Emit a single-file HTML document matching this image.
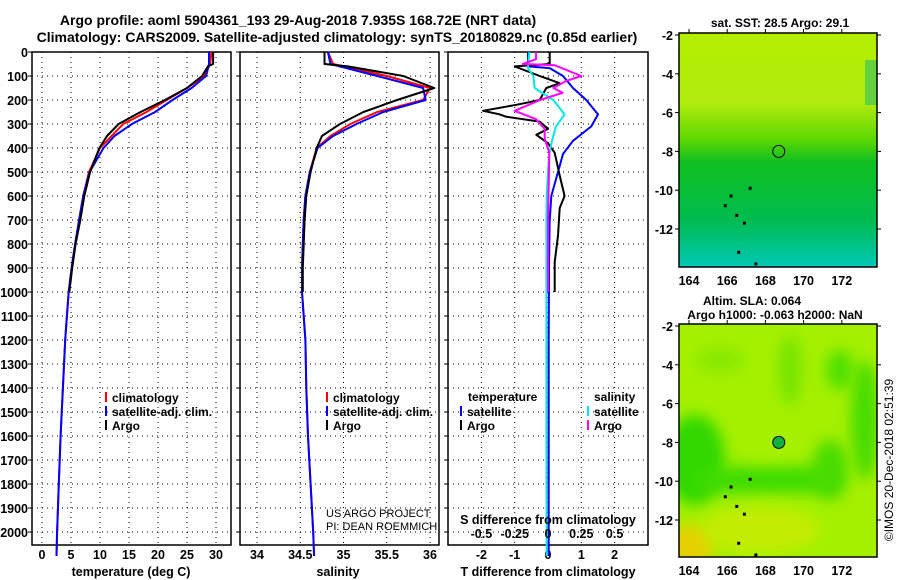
<!DOCTYPE html>
<html><head><meta charset="utf-8"><style>
html,body{margin:0;padding:0;background:#fff;}
svg{display:block;font-family:"Liberation Sans",sans-serif;font-weight:bold;}
text{font-size:12px;fill:#000;}
</style></head><body>
<svg id="fig" width="900" height="580" viewBox="0 0 900 580" xmlns="http://www.w3.org/2000/svg">
<defs>
<linearGradient id="sstGrad" x1="0" y1="0" x2="0" y2="1">
<stop offset="0" stop-color="#b4ee00"/><stop offset="0.3" stop-color="#b0ec10"/>
<stop offset="0.45" stop-color="#60d800"/><stop offset="0.55" stop-color="#10c020"/>
<stop offset="0.8" stop-color="#00bc50"/><stop offset="1" stop-color="#00c8b8"/>
</linearGradient>
<filter id="blur" x="-60%" y="-60%" width="220%" height="220%"><feGaussianBlur stdDeviation="7"/></filter>
<clipPath id="clipM2"><rect x="679" y="324" width="198" height="233"/></clipPath>
</defs>
<g id="root"></g>
</svg>
<script>
// ---------- data ----------
const tDepth = [0,50,100,150,200,250,300,350,400,500,600,700,800,900,1000,1100,1200,1400,1600,1800,2000,2100];
const tClim  = [29.2,29.0,28.0,25.0,21.5,18.0,14.0,12.0,10.0,8.1,7.1,6.4,5.7,5.1,4.6,4.3,4.0,3.6,3.2,2.9,2.6,2.5];
const tSat   = [28.8,28.8,28.3,25.8,22.5,19.5,15.5,12.5,10.6,8.2,7.1,6.4,5.7,5.1,4.6,4.3,4.0,3.6,3.2,2.9,2.6,2.5];
const argoDepth = [0,50,60,100,150,200,250,300,350,400,500,600,700,800,900,1000];
const tArgo  = [29.5,29.5,28.6,27.6,25.0,21.2,17.0,13.2,11.2,9.9,8.3,7.3,6.6,5.8,5.2,4.7];
const sClim  = [34.82,34.88,35.5,36.0,35.92,35.39,35.08,34.85,34.69,34.61,34.56,34.54,34.53,34.52,34.52,34.54,34.56,34.57,34.59,34.62,34.65,34.66];
const sSat   = [34.82,34.85,35.39,35.92,35.95,35.46,35.15,34.88,34.70,34.61,34.56,34.54,34.53,34.52,34.52,34.54,34.56,34.57,34.59,34.62,34.65,34.66];
const sArgo  = [34.78,34.78,35.05,35.69,36.05,35.62,35.23,34.96,34.75,34.69,34.62,34.57,34.55,34.54,34.53,34.53];
const dDepth = [0,60,67,100,150,200,260,310,370,425,500,600,700,900,1200,1600,2100];
const dTsat  = [-0.6,-0.6,0.05,0.45,0.75,1.15,1.5,1.3,0.75,0.45,0.3,0.1,0.05,0.03,0.02,0.02,0.02];
const dSsat  = [-0.14,-0.15,-0.15,-0.11,-0.1,0.04,0.125,0.06,0.03,0.01,0.0,-0.01,-0.012,-0.012,-0.012,-0.012,-0.01];
const daDepth = [0,50,60,100,130,150,200,220,245,260,270,290,320,345,380,420,515,600,650,765,875,975,1000];
const dTargo = [0.05,0.05,-1.0,-0.25,0.35,-0.05,-0.25,-0.95,-1.95,-1.45,-1.25,-0.25,0.0,-0.35,0.0,0.2,0.35,0.5,0.35,0.3,0.2,0.2,0.2];
const sdDepth = [0,30,50,55,100,120,150,170,200,245,280,320,360,420,700,1000];
const dSargo = [-0.09,-0.09,-0.19,0.05,0.25,0.14,0.04,0.11,-0.06,-0.25,-0.09,-0.025,-0.025,0.01,0.0,0.0];
const depthTicks = [0,100,200,300,400,500,600,700,800,900,1000,1100,1200,1300,1400,1500,1600,1700,1800,1900,2000];
const tTicks = [0,5,10,15,20,25,30];
const sTicks = [34,34.5,35,35.5,36];
const dtTicks = [-2,-1,0,1,2];
const dsTicks = [-0.5,-0.25,0,0.25,0.5];
const latTicks = [-2,-4,-6,-8,-10,-12];
const lonTicks = [164,166,168,170,172];
const argoLon = 168.7, argoLat = -8;

// ---------- scales ----------
const Y = d => 52 + d*0.24;
const XT = t => 42 + t*5.8;
const XS = s => 257 + (s-34)*86.5;
const XDT = v => 548 + v*33.3;
const XDS = v => 548 + v*133.2;
const LX = lon => 689 + (lon-164)*19.1;
const LY1 = lat => 35 + (-2-lat)*19.4;
const LY2 = lat => 326 + (-2-lat)*19.4;
const TOP=52, BOT=545;

const NS="http://www.w3.org/2000/svg";
const root=document.getElementById('root');
function mk(tag, attrs, parent){const e=document.createElementNS(NS,tag);for(const k in attrs)e.setAttribute(k,attrs[k]);(parent||root).appendChild(e);return e;}
function txt(x,y,s,anchor,size){const e=mk('text',{x:x,y:y,'text-anchor':anchor||'start'});if(size)e.style.fontSize=size+'px';e.textContent=s;return e;}

let e;
e=txt(298,25,'Argo profile: aoml 5904361_193 29-Aug-2018 7.935S 168.72E (NRT data)','middle',14);


e=txt(337,42,'Climatology: CARS2009. Satellite-adjusted climatology: synTS_20180829.nc (0.85d earlier)','middle',14);



function panel(x0,x1,name,xticks,xf,xlabels){
  const g=mk('g',{});
  
  
  depthTicks.forEach(d=>{
    const l=mk('line',{x1:x0,x2:x1,y1:Y(d),y2:Y(d),stroke:'#000','stroke-width':1,'stroke-dasharray':'1 4'},g);
    
    
    const t1=mk('line',{x1:x0-4,x2:x0,y1:Y(d),y2:Y(d),stroke:'#000'},g);
    
    
  });
  xticks.forEach(v=>{
    const l=mk('line',{x1:xf(v),x2:xf(v),y1:TOP,y2:BOT,stroke:'#000','stroke-dasharray':'1 4'},g);
    
    
    if(xlabels){
      const t=txt(xf(v),559,String(v),'middle',12.5);
      
      
    }
  });
  const r=mk('rect',{x:x0,y:TOP,width:x1-x0,height:BOT-TOP,fill:'none',stroke:'#000','stroke-width':1.5},g);
  
  
}
function line(ys,xs,xf,color,name,w){
  const pts=ys.map((d,i)=>xf(xs[i]).toFixed(1)+','+Y(d).toFixed(1)).join(' ');
  const p=mk('polyline',{points:pts,fill:'none',stroke:color,'stroke-width':w||2,'stroke-linejoin':'round'});
  
  
}
function legend(x,y,color,label){
  const l=mk('line',{x1:x,x2:x,y1:y-10,y2:y,stroke:color,'stroke-width':2});
  
  
  const t=txt(x+6,y,label,'start',12);
  
  
}

panel(32,231,'temperature',tTicks,XT,true);
panel(240,439,'salinity',sTicks,XS,true);
panel(448,648,'difference',dtTicks,XDT,true);

depthTicks.forEach(d=>{
  const t=txt(28,Y(d)+5,String(d),'end',12.5);
  
  
});

line(tDepth,tClim,XT,'#ff0000','temperature-climatology-line');
line(tDepth,tSat,XT,'#0000ff','temperature-satellite-line');
line(argoDepth,tArgo,XT,'#000000','temperature-argo-line');
line(tDepth,sClim,XS,'#ff0000','salinity-climatology-line');
line(tDepth,sSat,XS,'#0000ff','salinity-satellite-line');
line(argoDepth,sArgo,XS,'#000000','salinity-argo-line');
line(dDepth,dTsat,XDT,'#0000ff','t-diff-satellite-line');
line(daDepth,dTargo,XDT,'#000000','t-diff-argo-line');
line(dDepth,dSsat,XDS,'#00e8e8','s-diff-satellite-line');
line(sdDepth,dSargo,XDS,'#ff00ff','s-diff-argo-line');

e=txt(131,576,'temperature (deg C)','middle',12.5);


e=txt(338,576,'salinity','middle',12.5);


e=txt(548,576,'T difference from climatology','middle',12.5);


e=txt(548,524,'S difference from climatology','middle',12.5);


dsTicks.forEach(v=>{
  const t=txt(XDS(v),538,String(v),'middle',12.5);
  
  
});

legend(106,402,'#ff0000','climatology');
legend(106,416,'#0000ff','satellite-adj. clim.');
legend(106,430,'#000000','Argo');
legend(327,402,'#ff0000','climatology');
legend(327,416,'#0000ff','satellite-adj. clim.');
legend(327,430,'#000000','Argo');
e=txt(468,401,'temperature','start',12);


e=txt(594,401,'salinity','start',12);


legend(461,416,'#0000ff','satellite');
legend(461,430,'#000000','Argo');
legend(588,416,'#00e8e8','satellite');
legend(588,430,'#ff00ff','Argo');

e=txt(326,517,'US ARGO PROJECT','start',11);
e.style.fontWeight='normal';


e=txt(326,530,'PI: DEAN ROEMMICH','start',11);
e.style.fontWeight='normal';



// ---------- maps ----------
function mapAxes(top,bot,LY,name){
  latTicks.forEach(v=>{
    const t=txt(673,LY(v)+5,String(v),'end',12.5);
    
    
    const k=mk('line',{x1:675,x2:679,y1:LY(v),y2:LY(v),stroke:'#000'});
    
    
    const k2=mk('line',{x1:877,x2:881,y1:LY(v),y2:LY(v),stroke:'#000'});
    
    
  });
  lonTicks.forEach(v=>{
    const t=txt(LX(v),bot+18,String(v),'middle',12.5);
    
    
    const k=mk('line',{x1:LX(v),x2:LX(v),y1:top-4,y2:top,stroke:'#000'});
    
    
  });
  const r=mk('rect',{x:679,y:top,width:198,height:bot-top,fill:'none',stroke:'#000','stroke-width':1.5});
  
  
}
e=mk('rect',{x:679,y:33,width:198,height:234,fill:'url(#sstGrad)'});


e=mk('rect',{x:865,y:60,width:12,height:45,fill:'#30c060',opacity:0.6});


e=mk('circle',{cx:LX(argoLon),cy:LY1(argoLat),r:6,fill:'none',stroke:'#000','stroke-width':1});


mapAxes(33,267,LY1,'sst-map');
e=txt(780,27,'sat. SST: 28.5 Argo: 29.1','middle',12);



const g2=mk('g',{'clip-path':'url(#clipM2)'});


e=mk('rect',{x:679,y:324,width:198,height:233,fill:'#a4f000'},g2);


const blobs=[[695,460,30,45,'#30d800'],[740,480,45,14,'#40dc00'],[800,480,40,14,'#40dc00'],[830,470,18,30,'#48dc00'],[865,420,14,60,'#48dc00'],[840,370,14,20,'#50e000'],[790,370,12,35,'#78e400'],[720,360,25,12,'#88e800'],[690,545,25,20,'#e8d000'],[760,530,60,22,'#c4ec00']];
blobs.forEach(b=>{
  const el=mk('ellipse',{cx:b[0],cy:b[1],rx:b[2],ry:b[3],fill:b[4],filter:'url(#blur)'},g2);
  
  
});
e=mk('circle',{cx:LX(argoLon),cy:LY2(argoLat),r:6,fill:'#10b040',stroke:'#000','stroke-width':1});


mapAxes(324,557,LY2,'sla-map');
e=txt(752,305,'Altim. SLA: 0.064','middle',12);


e=txt(775,319,'Argo h1000: -0.063 h2000: NaN','middle',12);



[[166.2,-10.3],[165.9,-10.8],[166.5,-11.3],[166.9,-11.7],[167.5,-13.8],[166.6,-13.2],[167.2,-9.9]].forEach(p=>{
  [LY1,LY2].forEach(f=>{
    const r=mk('rect',{x:LX(p[0])-1.5,y:f(p[1])-1.5,width:3,height:3,fill:'#000'});
    
    
  });
});

e=mk('text',{x:0,y:0,transform:'translate(893,460) rotate(-90)','text-anchor':'middle'});
e.style.fontSize='12px';e.style.fontWeight='normal';
e.textContent='©IMOS 20-Dec-2018 02:51:39';


</script>
</body></html>
